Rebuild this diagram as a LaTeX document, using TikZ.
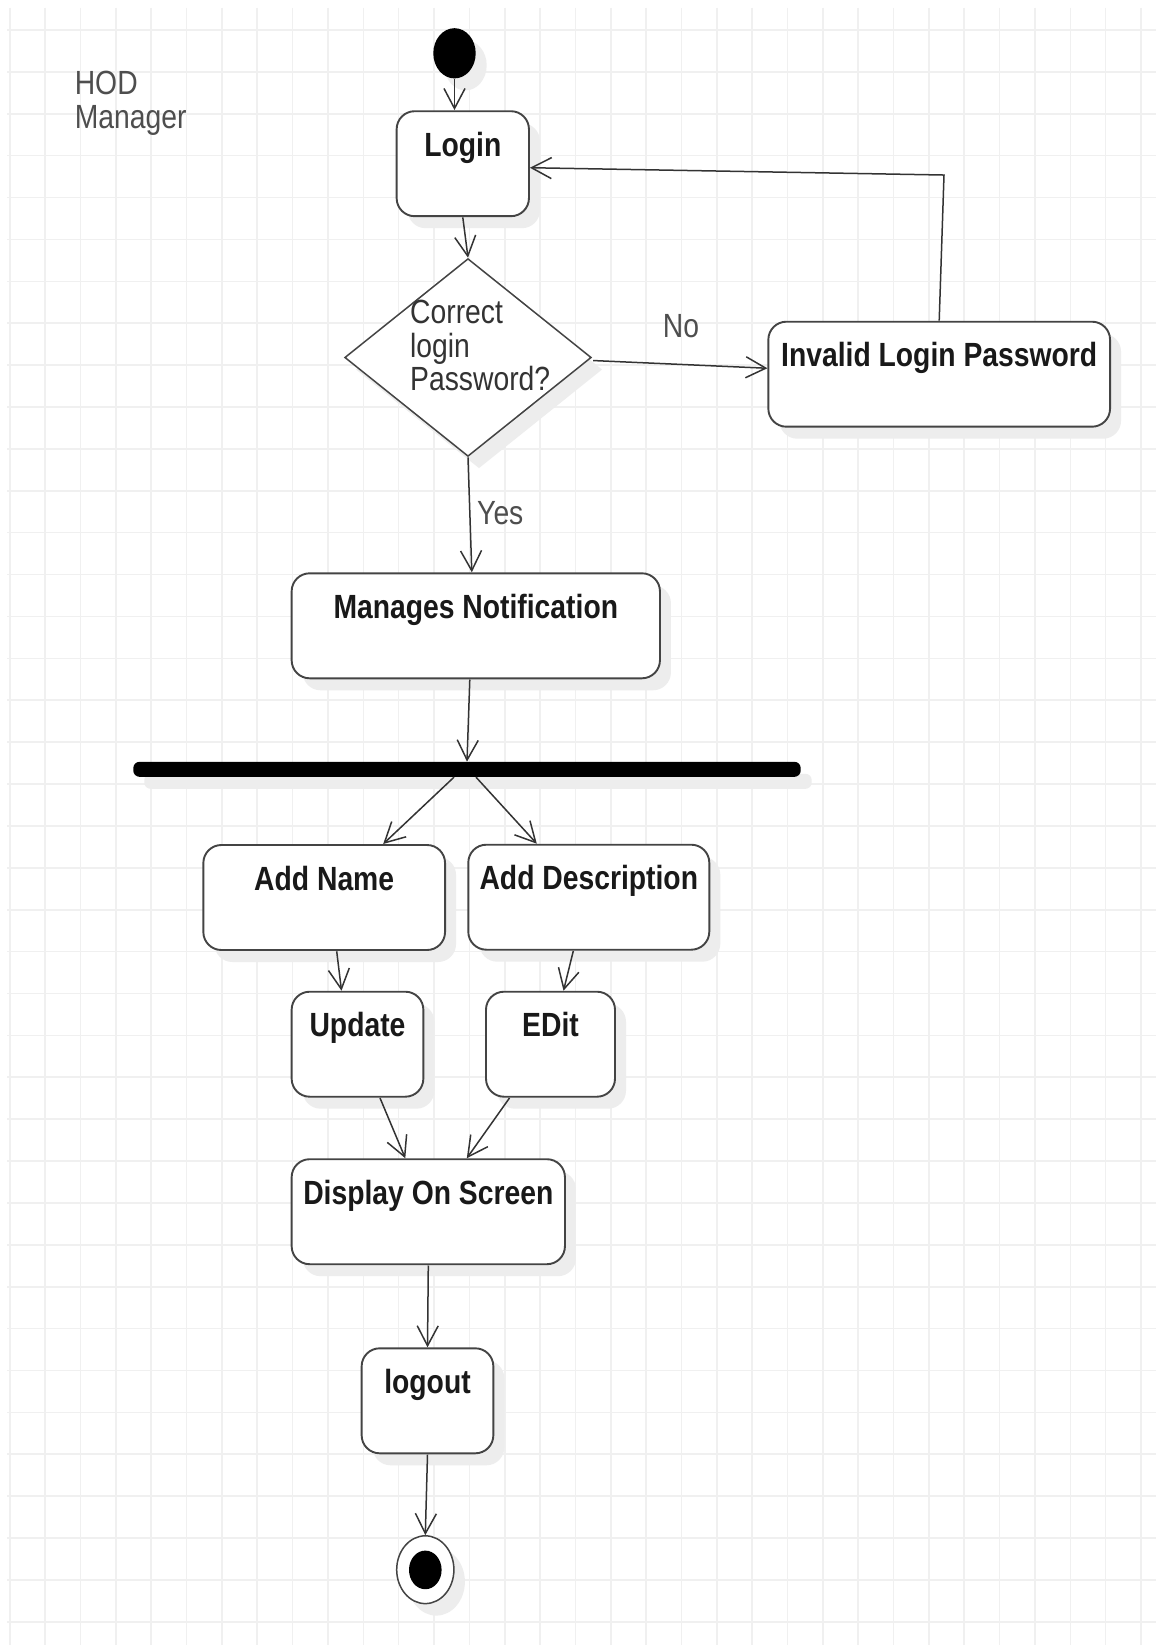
\documentclass[tikz,border=0pt]{standalone}
\usepackage{fontspec}
\setmainfont{Liberation Sans}
\usetikzlibrary{shapes.geometric,arrows.meta,calc,shadows}

\definecolor{gridgray}{HTML}{F0F0F0}
\definecolor{edgegray}{HTML}{444444}
\definecolor{inkgray}{HTML}{333333}
\definecolor{labelgray}{HTML}{4E4E4E}
\definecolor{shadowgray}{HTML}{EDEDED}
\newcommand{\diagfont}{\fontsize{28.3pt}{28.3pt}\selectfont}

\tikzset{
  gridline/.style={draw=gridgray, line width=1.6pt},
  softshadow/.style={drop shadow={shadow xshift=11pt, shadow yshift=-12pt, fill=shadowgray, opacity=1}},
  action/.style={draw=edgegray, line width=1.9pt, fill=white, rounded corners=18pt,
    inner xsep=0pt, inner ysep=0pt, minimum height=88.6pt,
    text height=38pt, text depth=50.6pt, font=\diagfont\bfseries, text=black!90, softshadow},
  flow/.style={draw=inkgray, line width=1.5pt,
    -{Straight Barb[length=20pt,width=21pt,line width=1.5pt]}},
  note/.style={font=\diagfont, text=labelgray, inner sep=0pt},
}

\begin{document}
\begin{tikzpicture}[x=1pt, y=-0.84388pt]
\begin{scope}[yscale=1.185, transform shape]
  % sheet and background grid
  \fill[white] (0,0) rectangle (1156,1645);
  \useasboundingbox (0,0) rectangle (1156,1645);
  \foreach \k in {0,...,32} {
    \draw[gridline] ({9.8+35.35*\k},8) -- ({9.8+35.35*\k},1645);
  }
  \foreach \k in {0,...,38} {
    \draw[gridline] (7,{30+41.89*\k}) -- (1156,{30+41.89*\k});
  }

  % swimlane caption (base anchor sits on the last line)
  \node[note, align=left, anchor=base west] (role) at (74.6,128.3) {HOD\\Manager};

  % initial node
  \node[circle, fill=black, minimum size=42.4pt, inner sep=0pt, softshadow] (start) at (454.5,53.3) {};

  % actions
  \node[action, minimum width=132.3pt] (login) at (462.8,163.7) {Login};
  \node[diamond, draw=edgegray, line width=1.5pt, fill=white, minimum width=246.6pt,
        minimum height=167pt, inner sep=0pt, softshadow] (dec) at (468,357.5) {};
  \node[note, text=inkgray, align=left, anchor=base west] (dectext) at (410,390.7) {Correct\\login\\Password?};
  \node[action, minimum width=341.7pt] (invalid) at (939.2,374.2) {Invalid Login Password};
  \node[action, minimum width=368.3pt] (mn) at (475.8,625.8) {Manages Notification};

  % fork bar
  \node[fill=black, minimum width=667.4pt, minimum height=12.7pt, inner sep=0pt,
        rounded corners=6.3pt, softshadow] (bar) at (467,769.3) {};

  \node[action, minimum width=241.7pt] (addname) at (324.2,897.5) {Add Name};
  \node[action, minimum width=241pt] (adddesc) at (588.8,897.2) {Add Description};
  \node[action, minimum width=131.7pt] (update) at (357.5,1044.2) {Update};
  \node[action, minimum width=129pt] (edit) at (550.5,1044.2) {EDit};
  \node[action, minimum width=273.3pt] (display) at (428.3,1211.7) {Display On Screen};
  \node[action, minimum width=131.7pt] (logout) at (427.5,1400.8) {logout};

  % final node
  \node[circle, draw=edgegray, line width=1.5pt, fill=white, minimum size=57.2pt,
        inner sep=0pt, softshadow] (final) at (425.3,1569.7) {};
  \node[circle, fill=black, minimum size=32.6pt, inner sep=0pt] (finaldot) at (final.center) {};

  % guard labels
  \node[note, anchor=base west] (nolabel) at (662.7,337.3) {No};
  \node[note, anchor=base west] (yeslabel) at (477,524) {Yes};

  % control flow
  \coordinate (bend) at (944,175);
  \draw[flow] (start.south) -- (start.south |- login.north);
  \draw[flow] (login.south) -- (dec.north);
  \draw[flow] ($(dec.east)+(1,3)$) -- ($(invalid.west)+(0,-6)$);
  \draw[flow] (invalid.north) -- (bend) -- ($(login.east)+(0,4)$);
  \draw[flow] (dec.south) -- ($(mn.north)+(-4,0)$);
  \draw[flow] ($(mn.south)+(-6,0)$) -- (bar.north);
  \draw[flow] ($(bar.south)+(-13,0)$) -- ($(addname.north)+(59,0)$);
  \draw[flow] ($(bar.south)+(9,0)$) -- ($(adddesc.north)+(-52,0)$);
  \draw[flow] ($(addname.south)+(12.5,0)$) -- ($(update.north)+(-16,0)$);
  \draw[flow] ($(adddesc.south)+(-15.5,0)$) -- ($(edit.north)+(13,0)$);
  \draw[flow] ($(update.south)+(22.5,0)$) -- ($(display.north)+(-23,0)$);
  \draw[flow] ($(edit.south)+(-41,0)$) -- ($(display.north)+(38.5,0)$);
  \draw[flow] (display.south) -- (logout.north);
  \draw[flow] (logout.south) -- (final.north);
\end{scope}
\end{tikzpicture}
\end{document}
